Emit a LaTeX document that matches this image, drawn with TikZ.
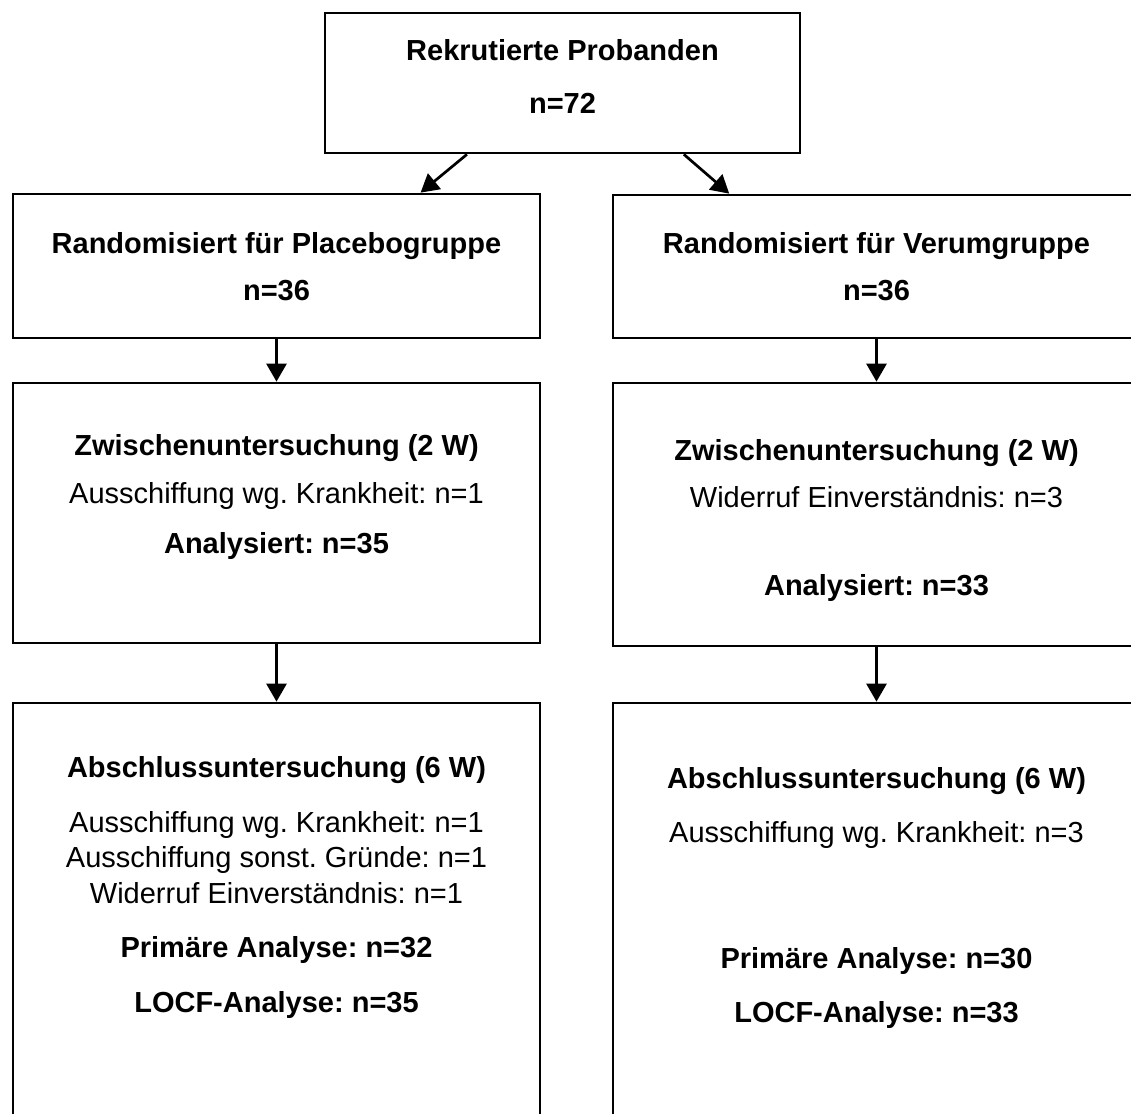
\documentclass[tikz,border=0pt]{standalone}
\usepackage{fontspec}
\setmainfont{Liberation Sans}
\frenchspacing
\usetikzlibrary{arrows.meta,calc}
\tikzset{>={Triangle[width=10pt,length=9pt]}}
\tikzset{
  box/.style = {draw, line width=1.35pt, minimum width=263.5pt, inner sep=0pt},
  head/.style = {font=\fontsize{14.5}{17}\selectfont\bfseries, anchor=base},
  info/.style = {font=\fontsize{14.5}{17}\selectfont, anchor=base},
  arr/.style = {->, line width=1.35pt}
}

\begin{document}
\begin{tikzpicture}[x=0.5pt,y=-0.5pt]
  \useasboundingbox (0,0) rectangle (1131,1114);
  \node[box,minimum width=237.5pt,minimum height=70pt] (rekr) at (562.5,83) {};
  \node[box,minimum height=72pt] (plac) at (276.5,266) {};
  \node[box,minimum height=71.5pt] (verum) at (876.5,266.5) {};
  \node[box,minimum height=130pt] (zwP) at (276.5,513) {};
  \node[box,minimum height=131.5pt] (zwV) at (876.5,514.5) {};
  \node[box,minimum height=218.5pt] (absP) at (276.5,921.5) {};
  \node[box,minimum height=218.5pt] (absV) at (876.5,921.5) {};

  \node[head] (rekr-a) at (562.5,60) {Rekrutierte Probanden};
  \node[head] (rekr-b) at (562.5,113) {n=72};

  \node[head] (plac-a) at (276.5,253) {Randomisiert für Placebogruppe};
  \node[head] (plac-b) at (276.5,300) {n=36};
  \node[head] (verum-a) at (876.5,253) {Randomisiert für Verumgruppe};
  \node[head] (verum-b) at (876.5,300) {n=36};

  \node[head] (zwP-a) at (276.5,455) {Zwischenuntersuchung (2 W)};
  \node[info] (zwP-b) at (276.5,503) {Ausschiffung wg. Krankheit: n=1};
  \node[head] (zwP-c) at (276.5,553) {Analysiert: n=35};
  \node[head] (zwV-a) at (876.5,460) {Zwischenuntersuchung (2 W)};
  \node[info] (zwV-b) at (876.5,507) {Widerruf Einverständnis: n=3};
  \node[head] (zwV-c) at (876.5,595) {Analysiert: n=33};

  \node[head] (absP-a) at (276.5,777) {Abschlussuntersuchung (6 W)};
  \node[info] (absP-b) at (276.5,832) {Ausschiffung wg. Krankheit: n=1};
  \node[info] (absP-c) at (276.5,867) {Ausschiffung sonst. Gründe: n=1};
  \node[info] (absP-d) at (276.5,903) {Widerruf Einverständnis: n=1};
  \node[head] (absP-e) at (276.5,957) {Primäre Analyse: n=32};
  \node[head] (absP-f) at (276.5,1012) {LOCF-Analyse: n=35};
  \node[head] (absV-a) at (876.5,788) {Abschlussuntersuchung (6 W)};
  \node[info] (absV-b) at (876.5,842) {Ausschiffung wg. Krankheit: n=3};
  \node[head] (absV-c) at (876.5,968) {Primäre Analyse: n=30};
  \node[head] (absV-d) at (876.5,1022) {LOCF-Analyse: n=33};

  \draw[arr] ($(rekr.south west)!0.3!(rekr.south east)$) -- ($(plac.north west)!0.772!(plac.north east)$);
  \draw[arr] ($(rekr.south west)!0.754!(rekr.south east)$) -- ($(verum.north west)!0.222!(verum.north east)$);
  \draw[arr] (plac.south) -- (zwP.north);
  \draw[arr] (verum.south) -- (zwV.north);
  \draw[arr] (zwP.south) -- (absP.north);
  \draw[arr] (zwV.south) -- (absV.north);
\end{tikzpicture}
\end{document}
